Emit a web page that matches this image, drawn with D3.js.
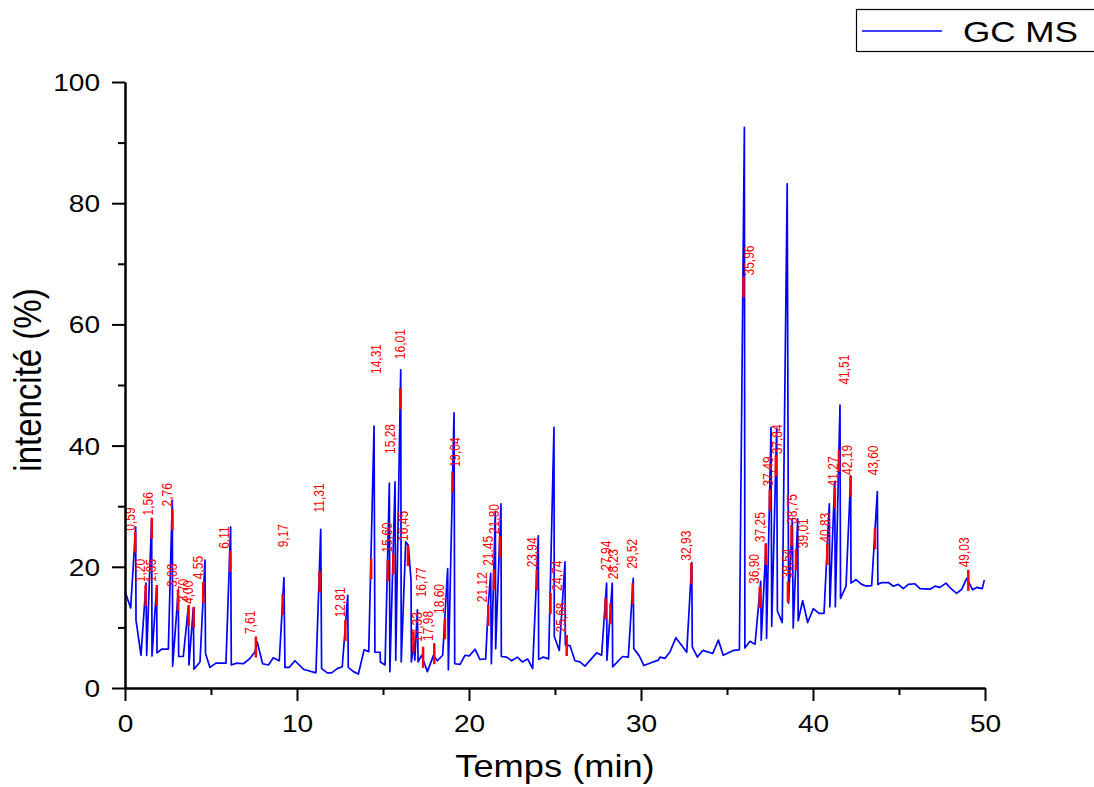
<!DOCTYPE html>
<html><head><meta charset="utf-8">
<script src="https://cdn.jsdelivr.net/npm/d3@7"></script>
<style>body{margin:0;background:#fff}</style>
</head><body>
<svg id="chart" width="1094" height="787"></svg>
<script>
// ---- data ----
const times = [0,0.33,0.62,0.64,0.93,1.22,1.26,1.55,1.57,1.84,1.86,2.13,2.52,2.75,2.77,3.10,3.12,3.39,3.68,3.72,3.97,4.01,4.36,4.65,4.68,4.94,5.29,5.87,6.14,6.18,6.49,6.88,7.27,7.56,7.69,8.00,8.34,8.62,8.97,9.24,9.30,9.55,9.88,10.37,11.10,11.38,11.43,11.76,12.01,12.34,12.63,12.95,12.98,13.28,13.57,13.90,14.17,14.48,14.53,14.83,14.85,15.12,15.37,15.40,15.70,15.74,16.03,16.06,16.32,16.47,16.63,16.65,16.80,16.85,17.00,17.04,17.24,17.58,17.83,17.93,18.16,18.47,18.76,18.80,19.13,19.17,19.48,19.77,20.02,20.35,20.64,20.97,21.12,21.26,21.30,21.53,21.55,21.86,21.88,22.19,22.48,22.81,23.10,23.41,23.70,24.03,24.05,24.32,24.63,24.94,24.96,25.25,25.58,25.60,25.87,26.16,26.45,26.74,27.42,27.71,28.00,28.02,28.33,28.35,28.93,29.26,29.55,29.58,29.90,30.17,30.62,31.01,31.10,31.40,31.69,32.03,32.66,32.95,32.98,33.28,33.59,34.17,34.50,34.78,35.37,35.72,36.01,36.04,36.34,36.63,36.96,36.99,37.27,37.30,37.56,37.60,37.89,37.93,38.21,38.50,38.58,38.80,38.85,39.11,39.14,39.40,39.69,40.02,40.35,40.64,40.95,40.98,41.26,41.30,41.57,41.60,41.92,42.19,42.21,42.50,42.83,43.12,43.41,43.74,43.77,44.00,44.38,44.67,44.96,45.25,45.54,45.93,46.22,46.80,47.09,47.38,47.73,48.06,48.35,48.65,48.94,49.28,49.51,49.84,49.96];
const intensities = [15.9,13.2,26.6,11.2,5.4,17.3,5.4,28.0,5.3,16.7,5.8,6.4,6.4,31.0,3.6,16.2,5.2,5.2,13.4,3.8,13.2,3.1,4.3,21.1,5.7,3.4,4.1,4.1,26.6,3.8,4.1,4.0,4.9,6.0,7.6,4.0,3.8,5.0,4.5,18.2,3.4,3.4,4.5,3.1,2.5,26.2,3.2,2.5,2.5,3.2,3.5,15.3,3.4,2.7,2.3,6.3,6.0,43.2,5.9,5.9,4.3,3.8,33.8,2.7,34.0,4.6,52.5,4.3,24.1,23.6,17.8,4.3,7.4,4.6,12.9,4.3,5.4,2.7,4.6,5.4,4.5,5.4,19.7,3.0,45.4,4.0,3.9,5.4,5.3,6.4,4.7,4.8,13.7,18.9,4.0,29.1,6.5,30.4,5.2,5.1,4.5,5.1,4.3,4.8,3.2,25.1,4.7,5.1,4.8,43.0,8.5,6.2,20.8,7.1,7.0,4.5,4.3,3.6,5.8,5.4,17.3,4.6,17.3,3.5,5.2,5.1,18.1,6.5,5.3,3.7,4.2,4.6,5.1,4.9,6.0,8.3,5.9,20.7,6.8,5.1,6.2,5.7,7.9,5.4,6.2,6.3,92.5,6.6,7.7,7.2,17.6,7.9,23.8,8.2,43.0,10.2,42.9,12.7,10.8,83.2,14.0,28.0,9.9,27.9,11.1,14.4,10.8,13.1,12.3,12.3,30.4,13.4,34.0,13.4,46.7,14.8,16.8,35.0,17.3,17.9,17.1,16.8,16.9,32.4,17.1,17.4,17.4,16.8,17.1,16.4,17.1,17.2,16.4,16.3,16.8,16.6,17.3,16.3,15.6,16.3,18.1,16.2,16.6,16.4,17.8];

// peak annotations (retention time labels)
const peakLabels = ["0,59","1,20","1,56","1,85","2,76","3,08","3,70","4,00","4,55","6,11","7,61","9,17","11,31","12,81","14,31","15,28","15,60","16,01","16,45","16,77","17,33","17,98","18,60","19,04","21,12","21,45","21,80","23,94","24,74","25,68","27,94","28,23","29,52","32,93","35,96","36,90","37,25","37,49","37,84","38,54","38,75","39,01","40,83","41,27","41,51","42,19","43,60","49,03"];
const peakTimes = [0.59,1.20,1.56,1.85,2.76,3.08,3.70,4.00,4.55,6.11,7.61,9.17,11.31,12.81,14.31,15.28,15.60,16.01,16.45,16.77,17.33,17.98,18.60,19.04,21.12,21.45,21.80,23.94,24.74,25.68,27.94,28.23,29.52,32.93,35.96,36.90,37.25,37.49,37.84,38.54,38.75,39.01,40.83,41.27,41.51,42.19,43.60,49.03];
const markerTops = [25.8,17.0,28.05,17.0,29.5,16.2,13.7,13.4,17.5,22.6,8.5,15.5,19.3,11.2,21.4,21.1,22.2,49.5,23.6,9.3,6.8,7.4,11.5,35.7,13.7,19.6,25.1,19.6,15.7,8.75,14.8,14.0,17.3,20.6,67.9,16.7,23.8,32.8,38.4,17.6,26.9,22.9,23.8,33.1,39.3,35.0,26.35,19.5];
const labelTimes = [0.34,0.88,1.37,1.55,2.47,2.76,3.40,3.70,4.28,5.80,7.30,9.20,11.31,12.50,14.63,15.41,15.29,15.99,16.18,17.21,17.03,17.62,18.31,19.19,20.80,21.12,21.47,23.69,25.12,25.39,28.00,28.43,29.48,32.62,36.32,36.61,36.92,37.40,37.94,38.52,38.81,39.44,40.70,41.22,41.86,42.00,43.53,48.81];
const labelIntensities = [25.8,17.3,28.3,17.3,29.8,16.5,14.0,13.7,17.8,22.8,8.75,23.05,28.8,11.5,51.65,38.45,22.2,54.1,24.1,14.8,7.4,7.6,12.05,36.25,14.0,20.0,25.25,19.75,15.9,9.0,19.2,17.8,19.5,20.85,67.9,17.0,23.9,33.1,38.4,17.9,26.9,22.9,23.8,33.1,49.9,35.0,34.9,19.75];

const xTicks = [0,10,20,30,40,50];
const xMinorTicks = [5,15,25,35,45];
const yTicks = [0,20,40,60,80,100];
const yMinorTicks = [10,30,50,70,90];
const seriesName = "GC MS";
const xTitle = "Temps (min)";
const yTitle = "intencité (%)";

// ---- drawing ----
const SX = 1.17; // horizontal glyph stretch
const svg = d3.select("#chart");
const x = d3.scaleLinear().domain([0,50]).range([125,985]);
const y = d3.scaleLinear().domain([0,100]).range([688,82]);
const FONT = "'Liberation Sans', Arial, sans-serif";

// line
const pts = times.map((t,i)=>[t,intensities[i]]);
svg.append("path").datum(pts)
  .attr("fill","none").attr("stroke","#0000ff").attr("stroke-width",1.7)
  .attr("stroke-linejoin","round")
  .attr("d", d3.line().x(d=>x(d[0])).y(d=>y(d[1])));

// red markers
svg.append("g").selectAll("line").data(peakTimes).join("line")
  .attr("x1",(d)=>x(d)).attr("x2",(d)=>x(d))
  .attr("y1",(d,i)=>y(markerTops[i]))
  .attr("y2",(d,i)=>y(markerTops[i])+21)
  .attr("stroke","#ff0000").attr("stroke-width",2.5);

// red labels
svg.append("g").selectAll("text").data(peakLabels).join("text")
  .attr("transform",(d,i)=>`translate(${x(labelTimes[i])+4.5},${y(labelIntensities[i])-1}) scale(${SX},1) rotate(-90)`)
  .attr("font-family",FONT).attr("font-size",12).attr("fill","#ff0000")
  .attr("text-anchor","start").text(d=>d);

// axes
const gx = svg.append("g").attr("transform","translate(0,688)");
gx.call(d3.axisBottom(x).tickValues(xTicks).tickSize(13).tickSizeOuter(0).tickFormat(d3.format("d")));
gx.append("g").call(d3.axisBottom(x).tickValues(xMinorTicks).tickSize(7).tickSizeOuter(0).tickFormat(""));
gx.selectAll("path.domain").attr("stroke","#000").attr("stroke-width",2);
gx.selectAll(".tick line").attr("stroke","#000").attr("stroke-width",2);
gx.selectAll(".tick text").attr("font-family",FONT).attr("font-size",24).attr("fill","#000")
  .attr("y",0).attr("dy",0).attr("transform",`translate(0,44) scale(${SX},1)`);

const gy = svg.append("g").attr("transform","translate(125,0)");
gy.call(d3.axisLeft(y).tickValues(yTicks).tickSize(13).tickSizeOuter(0).tickFormat(d3.format("d")));
gy.append("g").call(d3.axisLeft(y).tickValues(yMinorTicks).tickSize(7).tickSizeOuter(0).tickFormat(""));
gy.selectAll("path.domain").attr("stroke","#000").attr("stroke-width",2);
gy.selectAll(".tick line").attr("stroke","#000").attr("stroke-width",2);
gy.selectAll(".tick text").attr("font-family",FONT).attr("font-size",24).attr("fill","#000")
  .attr("x",0).attr("dy","0.35em").attr("transform",`translate(-25,0) scale(${SX},1)`);

// titles
svg.append("text").attr("transform",`translate(555,777) scale(${SX},1)`)
  .attr("text-anchor","middle").attr("font-family",FONT).attr("font-size",31).attr("fill","#000").text(xTitle);
svg.append("text").attr("transform",`translate(41,380) scale(${SX},1) rotate(-90)`)
  .attr("text-anchor","middle").attr("font-family",FONT).attr("font-size",33).attr("fill","#000").text(yTitle);

// legend
const lg = svg.append("g");
lg.append("rect").attr("x",856.5).attr("y",9.5).attr("width",260).attr("height",42)
  .attr("fill","#fff").attr("stroke","#000").attr("stroke-width",1.2);
lg.append("line").attr("x1",862).attr("x2",942).attr("y1",31).attr("y2",31)
  .attr("stroke","#0000ff").attr("stroke-width",1.7);
lg.append("text").attr("transform",`translate(963,42) scale(${SX},1)`)
  .attr("font-family",FONT).attr("font-size",30).attr("fill","#000").text(seriesName);
</script>
</body></html>
